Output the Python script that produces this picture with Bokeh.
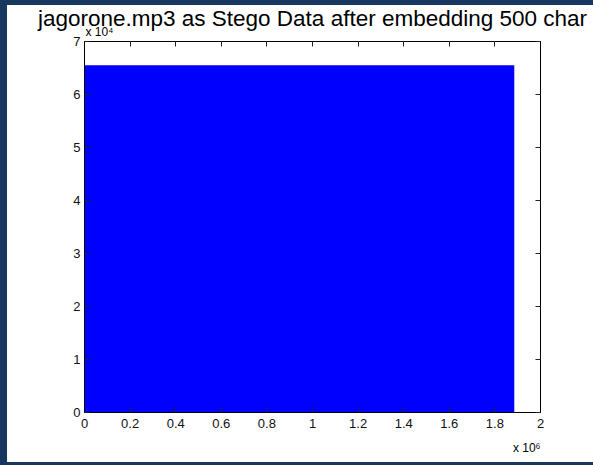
from bokeh.plotting import figure
from bokeh.models import LinearAxis, FixedTicker, Title, Range1d
from bokeh.embed import file_html
from bokeh.resources import INLINE

title_text = "jagorone.mp3 as Stego Data after embedding 500 char"
y_exponent = "x 10\u2074"
x_exponent = "x 10\u2076"

# envelope of the stego audio samples (sample index, lower / upper sample value)
sample_idx = [0, 200000, 400000, 600000, 800000, 1000000, 1200000,
              1400000, 1600000, 1800000, 1885000]
env_max = [65535, 65535, 65535, 65535, 65535, 65535, 65535,
           65535, 65535, 65535, 65535]
env_min = [0, 0, 0, 0, 0, 0, 0, 0, 0, 0, 0]

x_ticks = [0, 200000, 400000, 600000, 800000, 1000000, 1200000,
           1400000, 1600000, 1800000, 2000000]
x_tick_labels = ["0", "0.2", "0.4", "0.6", "0.8", "1", "1.2", "1.4", "1.6", "1.8", "2"]
y_ticks = [0, 10000, 20000, 30000, 40000, 50000, 60000, 70000]
y_tick_labels = ["0", "1", "2", "3", "4", "5", "6", "7"]

FONT = "Liberation Sans"
NAVY = "#17375E"

p = figure(width=593, height=465, output_backend="svg", toolbar_location=None,
           x_range=Range1d(0, 2000000), y_range=Range1d(0, 70000),
           min_border_left=77, min_border_right=60, min_border_top=36,
           min_border_bottom=58, background_fill_color="white",
           border_fill_color="white", outline_line_color="black")
p.styles = {"border-left": f"7px solid {NAVY}", "border-top": f"5px solid {NAVY}",
            "border-bottom": f"3px solid {NAVY}"}
p.xgrid.visible = False
p.ygrid.visible = False

p.varea(x=sample_idx, y1=env_min, y2=env_max, fill_color="#0000FF", fill_alpha=1.0)

def style_axis(ax, ticks, labels, show_labels):
    ax.ticker = FixedTicker(ticks=ticks)
    ax.major_label_overrides = {t: l for t, l in zip(ticks, labels)}
    ax.major_tick_in = 5
    ax.major_tick_out = 0
    ax.minor_tick_line_color = None
    ax.major_tick_line_color = "#222222"
    ax.axis_line_color = "black"
    ax.major_label_text_font = FONT
    ax.major_label_text_font_size = "13px"
    ax.major_label_text_color = "#111111"
    ax.major_label_standoff = 6
    if not show_labels:
        ax.major_label_text_alpha = 0
        ax.major_label_text_font_size = "0px"
        ax.major_label_standoff = 0

style_axis(p.xaxis[0], x_ticks, x_tick_labels, True)
style_axis(p.yaxis[0], y_ticks, y_tick_labels, True)
p.yaxis[0].major_label_standoff = 4

top_ax = LinearAxis()
style_axis(top_ax, x_ticks, x_tick_labels, False)
p.add_layout(top_ax, "above")
right_ax = LinearAxis()
style_axis(right_ax, y_ticks, y_tick_labels, False)
p.add_layout(right_ax, "right")

p.add_layout(Title(text=y_exponent, align="left", offset=1, standoff=5,
                   text_font=FONT, text_font_size="12px",
                   text_font_style="normal", text_color="black"), "above")
p.add_layout(Title(text=x_exponent, align="right", offset=0, standoff=17,
                   text_font=FONT, text_font_size="12px",
                   text_font_style="normal", text_color="black"), "below")

p.title.text = title_text
p.title.align = "center"
p.title.offset = -3
p.title.text_font = FONT
p.title.text_font_size = "22.5px"
p.title.text_font_style = "normal"
p.title.text_color = "black"
try:
    p.title.standoff = -20
except Exception:
    p.title.standoff = 0

open("out.html", "w").write(file_html(p, INLINE))
